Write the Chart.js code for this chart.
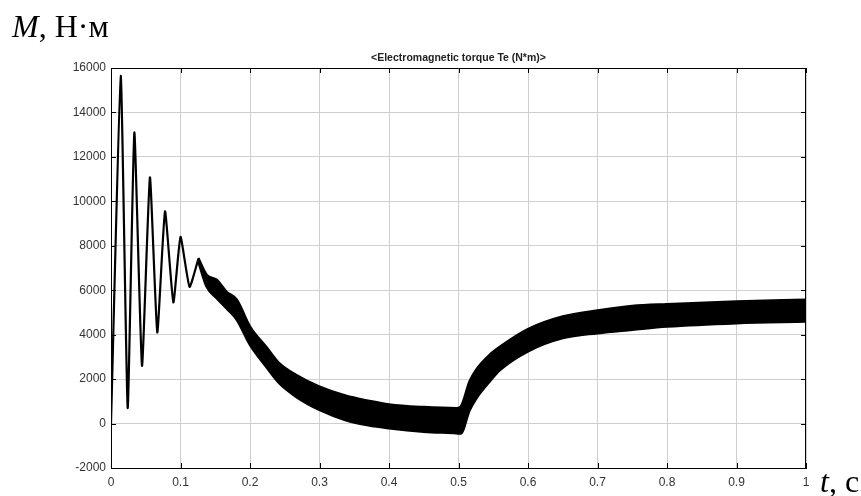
<!DOCTYPE html>
<html>
<head>
  <meta charset="utf-8">
  <title>Electromagnetic torque</title>
  <script src="https://cdn.jsdelivr.net/npm/chart.js@4"></script>
  <style>
    html, body {
      margin: 0; padding: 0;
      background-color: #fff;
    }
    #wrap {
      position: relative;
      width: 861px; height: 496px;
    }
    #myChart { position: absolute; left: 0; top: 0; }
    .lbl {
      position: absolute;
      font-family: "Liberation Serif", "Times New Roman", serif;
      font-size: 32px; line-height: 32px;
      color: #000; white-space: nowrap;
    }
    #title {
      position: absolute; left: 111px; width: 695px; top: 51px;
      text-align: center;
      font-family: "Liberation Sans", Arial, sans-serif;
      font-weight: bold; font-size: 10.5px; line-height: 12px;
      color: #222;
    }
  </style>
</head>
<body>
  <div id="wrap">
    <canvas id="myChart" width="861" height="496"></canvas>
    <div class="lbl" style="left:12px; top:10px;"><i>M</i>, Н·м</div>
    <div class="lbl" style="left:820px; top:465px;"><i>t</i>, с</div>
    <div id="title">&lt;Electromagnetic torque Te (N*m)&gt;</div>
  </div>

  <script>
    // start-up oscillation (single trace), time s / torque N*m
    const oscTime = [0, 0.014, 0.024, 0.0336, 0.0446, 0.056, 0.0666, 0.0777, 0.0897, 0.1,
      0.113, 0.1256];
    const oscTorque = [0, 15650, 700, 13100, 2600, 11080, 4100, 9550, 5450, 8400,
      6150, 7400];

    // ripple band after that: upper and lower edge
    const bandTime = [0.1256, 0.1375, 0.152, 0.166, 0.181, 0.2, 0.223, 0.242, 0.266,
      0.3, 0.338, 0.37, 0.4, 0.45, 0.497, 0.503, 0.516, 0.526, 0.545,
      0.56, 0.6, 0.65, 0.7, 0.75, 0.8, 0.9, 1.0];
    const bandUpper = [7450, 6700, 6470, 5940, 5570, 4365, 3465, 2715, 2190,
      1660, 1250, 1030, 860, 740, 690, 750, 1900, 2450, 3100,
      3465, 4250, 4816, 5086, 5290, 5374, 5492, 5568];
    const bandLower = [7300, 6170, 5645, 5190, 4670, 3540, 2563, 1815, 1212,
      613, 150, -80, -212, -365, -437, -450, 600, 1150, 1900,
      2415, 3250, 3843, 4068, 4220, 4365, 4518, 4590];

    const xTickLabels = ['0', '0.1', '0.2', '0.3', '0.4', '0.5', '0.6', '0.7', '0.8', '0.9', '1'];
    const yTickLabels = ['-2000', '0', '2000', '4000', '6000', '8000', '10000', '12000', '14000', '16000'];

    const xTickVals = xTickLabels.map(Number);
    const yTickVals = yTickLabels.map(Number);

    const pts = (xs, ys) => xs.map((x, i) => ({ x: x, y: ys[i] }));

    // short inward ticks on all four sides plus the top/right frame
    const frameTicks = {
      id: 'frameTicks',
      afterDatasetsDraw(chart) {
        const { ctx, chartArea: a, scales } = chart;
        const len = 5;
        ctx.save();
        ctx.strokeStyle = '#000';
        ctx.lineWidth = 1;
        ctx.beginPath();
        xTickVals.forEach(v => {
          const px = Math.round(scales.x.getPixelForValue(v)) + 0.5;
          ctx.moveTo(px, a.bottom); ctx.lineTo(px, a.bottom - len);
          ctx.moveTo(px, a.top); ctx.lineTo(px, a.top + len);
        });
        yTickVals.forEach(v => {
          const py = Math.round(scales.y.getPixelForValue(v)) + 0.5;
          ctx.moveTo(a.left, py); ctx.lineTo(a.left + len, py);
          ctx.moveTo(a.right, py); ctx.lineTo(a.right - len, py);
        });
        ctx.moveTo(a.left, a.top + 0.5); ctx.lineTo(a.right, a.top + 0.5);
        ctx.moveTo(a.right - 0.5, a.top); ctx.lineTo(a.right - 0.5, a.bottom);
        ctx.stroke();
        ctx.restore();
      }
    };

    const ctx = document.getElementById('myChart').getContext('2d');
    const chart = new Chart(ctx, {
      type: 'line',
      data: {
        datasets: [
          {
            label: 'Te start',
            data: pts(oscTime, oscTorque),
            borderColor: '#000',
            borderWidth: 2.2,
            borderJoinStyle: 'round',
            pointRadius: 0,
            tension: 0.15,
            fill: false
          },
          {
            label: 'Te upper',
            data: pts(bandTime, bandUpper),
            borderColor: '#000',
            backgroundColor: '#000',
            borderWidth: 2.5,
            pointRadius: 0,
            cubicInterpolationMode: 'monotone',
            fill: '+1'
          },
          {
            label: 'Te lower',
            data: pts(bandTime, bandLower),
            borderColor: '#000',
            borderWidth: 2.5,
            pointRadius: 0,
            cubicInterpolationMode: 'monotone',
            fill: false
          }
        ]
      },
      options: {
        responsive: false,
        animation: false,
        layout: { padding: { left: 0, top: 68, right: 55, bottom: 0 } },
        scales: {
          x: {
            type: 'linear',
            min: 0, max: 1,
            afterFit: s => { s.height = 28; },
            afterBuildTicks: s => { s.ticks = xTickVals.map(v => ({ value: v })); },
            ticks: {
              padding: 7,
              color: '#333',
              font: { family: 'Liberation Sans, Arial, sans-serif', size: 12 },
              callback: (v) => xTickLabels[xTickVals.indexOf(v)] ?? ''
            },
            grid: { color: '#cfcfcf', lineWidth: 1, drawTicks: false },
            border: { color: '#000', width: 1 }
          },
          y: {
            type: 'linear',
            min: -2000, max: 16000,
            afterFit: s => { s.width = 111; },
            afterBuildTicks: s => { s.ticks = yTickVals.map(v => ({ value: v })); },
            ticks: {
              padding: 5,
              color: '#333',
              font: { family: 'Liberation Sans, Arial, sans-serif', size: 12 },
              callback: (v) => yTickLabels[yTickVals.indexOf(v)] ?? ''
            },
            grid: { color: '#cfcfcf', lineWidth: 1, drawTicks: false },
            border: { color: '#000', width: 1 }
          }
        },
        plugins: {
          legend: { display: false },
          tooltip: { enabled: false },
          title: { display: false }
        }
      },
      plugins: [frameTicks]
    });
  </script>
</body>
</html>
